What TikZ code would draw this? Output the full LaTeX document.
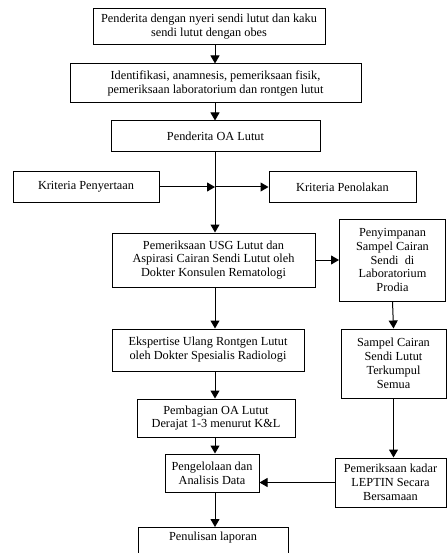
\documentclass[tikz,border=0pt]{standalone}
\usepackage{fontspec}
\setmainfont{Liberation Serif}
\usetikzlibrary{arrows.meta}

\begin{document}
\begin{tikzpicture}[x=1pt, y=-1pt,
  block/.style={draw, line width=1pt, align=center, inner sep=2pt,
    font=\fontsize{12.3}{13.9}\selectfont},
  arr/.style={line width=1pt, -{Triangle[length=8pt,width=9pt]}}]

  \useasboundingbox (0,0) rectangle (447,553);
  \clip (0,0) rectangle (447,553);

  % main column
  \node[block, minimum width=232pt, minimum height=36pt] (b1) at (209,27)
    {Penderita dengan nyeri sendi lutut dan kaku\\sendi lutut dengan obes};
  \node[block, minimum width=291pt, minimum height=39pt] (b2) at (215.5,83.5)
    {Identifikasi, anamnesis, pemeriksaan fisik,\\pemeriksaan laboratorium dan rontgen lutut};
  \node[block, minimum width=209pt, minimum height=31pt] (b3) at (215.5,136.5)
    {Penderita OA Lutut};

  % criteria row
  \node[block, minimum width=146pt, minimum height=30pt] (kp) at (86,187)
    {Kriteria Penyertaan};
  \node[block, minimum width=147pt, minimum height=30pt] (kt) at (342.5,187)
    {Kriteria Penolakan};

  \node[block, minimum width=203pt, minimum height=54pt] (b4) at (213.5,260)
    {Pemeriksaan USG Lutut dan\\Aspirasi Cairan Sendi Lutut oleh\\Dokter Konsulen Rematologi};
  \node[block, minimum width=192pt, minimum height=42pt] (b5) at (208,350)
    {Ekspertise Ulang Rontgen Lutut\\oleh Dokter Spesialis Radiologi};
  \node[block, minimum width=158pt, minimum height=38pt] (b6) at (216,418)
    {Pembagian OA Lutut\\Derajat 1-3 menurut K\&L};
  \node[block, minimum width=94pt, minimum height=38pt] (b7) at (212,473)
    {Pengelolaan dan\\Analisis Data};
  \node[block, minimum width=150pt, anchor=north, inner ysep=4pt, text depth=30pt] (b8) at (213,527)
    {Penulisan laporan};

  % right column
  \node[block, minimum width=106pt, minimum height=82pt] (sp) at (392.5,260)
    {Penyimpanan\\Sampel Cairan\\Sendi\ \ di\\Laboratorium\\Prodia};
  \node[block, minimum width=105pt, minimum height=69pt] (sc) at (393.5,363.5)
    {Sampel Cairan\\Sendi Lutut\\Terkumpul\\Semua};
  \node[block, minimum width=111pt, minimum height=49pt] (pk) at (390.5,482.5)
    {Pemeriksaan kadar\\LEPTIN Secara\\Bersamaan};

  % ghost nodes
  \coordinate (spine) at (215,0);
  \coordinate (J1) at (kp.east -| spine);

  % connectors
  \draw[arr] (b1.south -| spine) -- (b2.north -| spine);
  \draw[arr] (b2.south -| spine) -- (b3.north -| spine);
  \draw[arr] (b3.south -| spine) -- (b4.north -| spine);
  \draw[arr] (kp.east) -- (J1);
  \draw[arr] (J1) -- (kt.west);
  \draw[arr] (b4.east) -- (sp.west);
  \draw[arr] (b4.south -| spine) -- (b5.north -| spine);
  \draw[arr] (b5.south -| spine) -- (b6.north -| spine);
  \draw[arr] (b6.south -| spine) -- (b7.north -| spine);
  \draw[arr] (b7.south -| spine) -- (b8.north -| spine);
  \draw[arr] (sp.south) -- (sc.north);
  \draw[arr] (sc.south) -- (sc.south |- pk.north);
  \draw[arr] (pk.west) -- (pk.west -| b7.east);

\end{tikzpicture}
\end{document}
